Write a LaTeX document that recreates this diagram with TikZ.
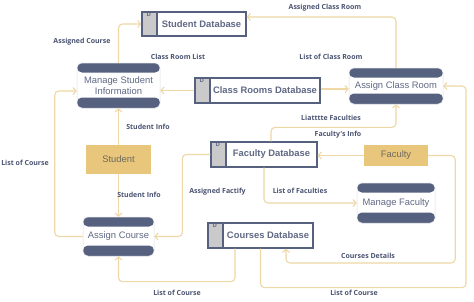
\documentclass[tikz,border=0pt]{standalone}
\usepackage{fontspec}
\setmainfont{Liberation Sans}
\newfontfamily\lblfont{Open Sans}
\usetikzlibrary{arrows.meta}
\definecolor{slate}{HTML}{56617F}
\definecolor{lbl}{HTML}{4A5371}
\definecolor{boxtxt}{HTML}{606985}
\definecolor{flowc}{HTML}{EED8A5}
\definecolor{extc}{HTML}{E8C67C}
\definecolor{exttxt}{HTML}{6E6A60}
\definecolor{tabgray}{HTML}{CACACA}
\definecolor{procedge}{HTML}{DADDE4}
\begin{document}
\begin{tikzpicture}[x=1pt,y=-1pt,
  proc/.style={rounded corners=5pt, fill=white, draw=procedge, line width=0.5pt, inner sep=0pt, align=center, text=boxtxt,
    font=\fontsize{9.4}{11}\selectfont,
    path picture={
      \fill[slate] (path picture bounding box.north west) rectangle ([yshift=-9.5pt]path picture bounding box.north east);
      \fill[slate] (path picture bounding box.south west) rectangle ([yshift=10.5pt]path picture bounding box.south east);}},
  dbox/.style={draw=slate, line width=1.3pt, fill=white, inner sep=0pt, text=boxtxt,
    font=\bfseries\fontsize{9.4}{11}\selectfont,
    path picture={
      \fill[tabgray] (path picture bounding box.north west) rectangle ([xshift=15pt]path picture bounding box.south west);
      \draw[slate, line width=1.3pt] ([xshift=15pt]path picture bounding box.north west) -- ([xshift=15pt]path picture bounding box.south west);}},
  dlab/.style={font=\bfseries\fontsize{5.5}{6}\selectfont, text=slate, anchor=north, inner sep=0pt},
  extent/.style={fill=extc, text=exttxt, inner sep=0pt, font=\fontsize{9.4}{11}\selectfont},
  flow/.style={draw=flowc, line width=1.1pt, rounded corners=4pt,
    -{Straight Barb[length=3pt,width=7pt,line width=1.1pt]}},
  lab/.style={font=\lblfont\bfseries\fontsize{7}{8}\selectfont, text=lbl, inner sep=0pt}
]
\useasboundingbox (0,0) rectangle (474,301);
\fill[white] (0,0) rectangle (474,301);

% data stores
\node[dbox, minimum width=104pt, minimum height=24pt] (studdb) at (194,24) {\hspace*{15pt}Student Database};
\node[dbox, minimum width=125pt, minimum height=25pt] (crdb) at (257.5,90.5) {\hspace*{15pt}Class Rooms Database};
\node[dbox, minimum width=106pt, minimum height=25pt] (facdb) at (264,154.5) {\hspace*{15pt}Faculty Database};
\node[dbox, minimum width=105pt, minimum height=25pt] (cdb) at (260.5,235.5) {\hspace*{15pt}Courses Database};
\node[dlab] (d1) at ([xshift=7.5pt,yshift=-1.5pt]studdb.north west) {D};
\node[dlab] (d2) at ([xshift=7.5pt,yshift=-1.5pt]crdb.north west) {D};
\node[dlab] (d3) at ([xshift=7.5pt,yshift=-1.5pt]facdb.north west) {D};
\node[dlab] (d4) at ([xshift=7.5pt,yshift=-1.5pt]cdb.north west) {D};

% processes
\node[proc, minimum width=83pt, minimum height=45pt] (msi) at (118.5,85.5) {Manage Student\\Information};
\node[proc, minimum width=94pt, minimum height=36pt] (acr) at (396,86) {Assign Class Room};
\node[proc, minimum width=78pt, minimum height=40pt] (mf) at (396,203) {Manage Faculty};
\node[proc, minimum width=71pt, minimum height=39pt] (ac) at (118.5,236.5) {Assign Course};

% external entities
\node[extent, minimum width=65pt, minimum height=29pt] (student) at (118.5,159.5) {Student};
\node[extent, minimum width=64pt, minimum height=21pt] (faculty) at (396,155.5) {Faculty};

% flows
\draw[flow] (msi.north) |- (studdb.west);
\draw[flow] (acr.north) |- ([yshift=7pt]studdb.east);
\draw[flow] (crdb.west) -- (crdb.west -| msi.east);
\draw[flow] ([yshift=1.5pt]crdb.east) -- ([yshift=1.5pt]crdb.east -| acr.west);
\draw[flow] (student.north) -- (msi.south);
\draw[flow] (student.south) -- (ac.north);
\draw[flow] (ac.west) -- ++(-28,0) |- ([yshift=-5.5pt]msi.west);
\draw[flow] ([xshift=7pt]facdb.north) -- ++(0,-14) -| (acr.south);
\draw[flow] (faculty.west) -- (faculty.west -| facdb.east);
\draw[flow] (facdb.west) -- ++(-28,0) |- (ac.east);
\draw[flow] (facdb.south) |- (mf.west);
\draw[flow] (faculty.east) -- ++(27,0) -- ++(0,107.5) -| ([xshift=25.5pt]cdb.south);
\draw[flow] (cdb.south) -- ++(0,39) -- ++(205.5,0) |- (acr.east);
\draw[flow] ([xshift=-25.5pt]cdb.south) -- ++(0,33) -| (ac.south);

% labels
\node[lab] (l1) at (82,42) {Assigned Course};
\node[lab] (l2) at (325,8) {Assigned Class Room};
\node[lab] (l3) at (178,57) {Class Room List};
\node[lab] (l4) at (331,57) {List of Class Room};
\node[lab] (l5) at (148,127) {Student Info};
\node[lab] (l6) at (139,195) {Student Info};
\node[lab] (l7) at (25,163) {List of Course};
\node[lab] (l8) at (331,118) {Liatttte Faculties};
\node[lab] (l9) at (338,135) {Faculty's Info};
\node[lab] (l10) at (217.5,192) {Assigned Factify};
\node[lab] (l11) at (300,191) {List of Faculties};
\node[lab] (l12) at (368,256) {Courses Details};
\node[lab] (l13) at (354,293) {List of Course};
\node[lab] (l14) at (177,293) {List of Course};
\end{tikzpicture}
\end{document}
